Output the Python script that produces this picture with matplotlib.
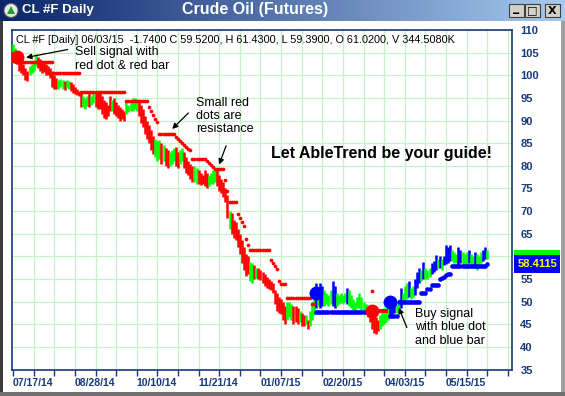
import numpy as np
import matplotlib.pyplot as plt
import matplotlib.transforms as mtransforms
from matplotlib.patches import Rectangle, Circle, Polygon

plt.rcParams['font.family'] = ['Liberation Sans', 'DejaVu Sans']

# ── colours ────────────────────────────────────────────────────────────────
_UP     = "#00FF00"
_DOWN   = "#FF0000"
_BUY    = "#0000FF"
_GRID   = "#C6F2C6"
_AXIS   = "#17387A"
_FRAME  = "#D4D0C8"

# ── daily bars (one entry per trading day) ──────────────────────────────────
bar_high = [
    107.0, 106.0, 105.0, 103.5, 103.0, 102.5, 101.5, 101.0, 102.0, 102.5,
    103.0, 104.7, 104.0, 103.5, 103.0, 103.2, 102.5, 102.0, 101.5, 101.0,
    100.0, 99.5, 99.0, 99.2, 99.0, 98.8, 99.0, 98.8, 98.5, 98.0,
    97.5, 97.0, 96.5, 96.6, 95.5, 95.0, 95.5, 96.0, 95.5, 96.0,
    96.5, 96.5, 96.0, 95.5, 94.5, 94.0, 93.5, 95.5, 94.5, 95.0,
    94.0, 93.5, 93.0, 92.5, 92.0, 94.0, 93.5, 94.5, 95.0, 95.0,
    94.8, 94.5, 93.5, 92.5, 91.0, 90.0, 89.0, 88.0, 86.5, 86.0,
    85.5, 85.8, 85.0, 84.5, 84.0, 83.5, 83.0, 83.5, 84.0, 84.2,
    83.0, 83.5, 84.0, 83.0, 82.0, 81.0, 80.5, 80.0, 80.0, 79.5,
    79.0, 78.5, 78.0, 79.0, 78.5, 78.0, 78.5, 79.0, 79.5, 79.0,
    78.0, 77.0, 76.5, 75.0, 73.5, 70.0, 69.5, 68.0, 67.5, 66.0,
    65.0, 63.5, 62.0, 60.5, 60.0, 58.8, 58.5, 58.0, 57.5, 57.5,
    57.0, 56.5, 56.0, 55.5, 55.0, 54.5, 54.0, 52.5, 51.8, 51.0,
    50.5, 50.0, 49.0, 50.0, 50.0, 49.5, 49.0, 49.0, 48.5, 48.0,
    47.5, 47.0, 47.0, 46.0, 48.0, 50.0, 51.8, 54.0, 53.0, 54.0,
    53.5, 52.5, 52.0, 51.5, 52.5, 54.5, 53.5, 52.0, 51.5, 51.8,
    51.5, 52.0, 53.0, 52.5, 51.5, 50.5, 50.0, 51.0, 52.0, 51.0,
    50.0, 49.5, 49.0, 48.5, 48.0, 47.0, 46.5, 46.0, 47.0, 48.0,
    48.5, 48.5, 49.0, 50.0, 49.5, 50.0, 49.5, 50.5, 53.0, 52.0,
    53.5, 54.0, 54.5, 53.0, 53.5, 55.0, 56.5, 57.5, 57.0, 58.8,
    57.5, 57.0, 57.5, 58.5, 59.0, 60.4, 59.5, 60.0, 59.5, 60.0,
    62.6, 62.0, 62.6, 61.5, 61.0, 60.5, 62.0, 61.5, 61.0, 60.5,
    61.0, 61.5, 60.5, 60.0, 61.0, 60.5, 60.0, 61.0, 61.5, 62.0,
    61.4,
]
bar_low = [
    104.5, 104.0, 102.5, 101.0, 100.5, 100.0, 99.0, 98.8, 100.0, 100.5,
    101.0, 102.0, 101.5, 101.0, 100.5, 100.8, 100.0, 100.0, 99.5, 97.4,
    97.0, 97.0, 97.0, 97.3, 97.0, 96.8, 97.2, 97.0, 96.5, 96.0,
    95.8, 95.6, 95.5, 93.0, 93.0, 92.5, 93.2, 93.0, 93.5, 93.8,
    93.0, 92.5, 92.5, 91.5, 90.5, 90.3, 91.0, 92.0, 92.0, 91.5,
    91.0, 90.5, 90.0, 90.3, 90.0, 91.5, 91.8, 92.0, 92.2, 92.5,
    92.0, 91.0, 89.5, 88.5, 87.0, 86.0, 85.0, 83.5, 82.5, 82.0,
    81.0, 81.5, 80.5, 81.0, 80.0, 79.5, 80.0, 80.5, 81.0, 80.0,
    79.5, 80.5, 81.0, 79.5, 78.5, 78.0, 77.0, 76.5, 76.5, 76.0,
    76.0, 75.8, 76.0, 75.5, 75.0, 75.5, 76.0, 76.0, 76.5, 75.5,
    74.5, 74.0, 73.0, 72.0, 68.5, 66.0, 65.0, 64.0, 63.5, 62.0,
    60.5, 58.5, 57.0, 55.6, 56.0, 54.5, 54.0, 55.0, 55.2, 55.0,
    54.8, 54.0, 53.5, 53.0, 52.7, 52.5, 52.0, 49.5, 48.0, 47.5,
    47.2, 46.0, 45.0, 46.0, 46.5, 46.0, 45.0, 45.5, 45.0, 45.5,
    44.5, 44.5, 45.0, 43.9, 44.5, 46.0, 47.0, 48.5, 49.0, 48.5,
    49.0, 49.0, 49.5, 49.0, 49.5, 49.0, 48.5, 49.0, 49.5, 49.8,
    49.5, 50.0, 49.5, 49.0, 48.5, 48.0, 48.0, 48.5, 48.5, 48.0,
    47.8, 47.5, 46.5, 45.5, 44.0, 43.0, 42.8, 43.5, 44.0, 44.5,
    45.0, 45.5, 46.0, 46.5, 47.0, 47.5, 47.5, 48.0, 48.5, 49.5,
    50.0, 50.5, 51.0, 50.5, 51.0, 51.5, 53.0, 54.0, 54.5, 55.0,
    55.0, 55.0, 55.5, 56.0, 56.5, 57.0, 57.5, 57.5, 57.0, 58.0,
    58.2, 58.5, 59.0, 59.0, 58.5, 58.5, 58.0, 58.5, 58.0, 57.5,
    58.0, 58.5, 58.0, 57.5, 58.0, 57.0, 58.0, 58.5, 59.0, 59.5,
    59.4,
]
# G = up trend, R = down trend, B = buy-trend bar
bar_trend = (
    "GGRRRRRRGG" "GGRRRRRRRR" "RRGGGRGGRR" "RRRRGGGRGG" "RRRRRRRRGR"
    "RRRRRGGGGG" "GRRRRRRRRG" "GGRGRRGGGR" "RGGRRRRRGG" "RRRRRGGGGR"
    "RRRRRGRRRR" "RRRRRGGRGR" "RRRRRRRRRR" "RRRGGGRRRG" "RRGRGGGBGB"
    "BGGGGBBGGG" "GGBGGGGGGG" "GGRRRRRRGG" "GGGBBBGGBG" "GGBGGBBBGB"
    "GGGBBBGBGB" "BBBGGGBBGG" "GBGGBGGGBB" "G"
)

# resistance stops (small red dots), one value per bar
red_stop = ([None] * 5 + [103.0] * 15 + [100.5] * 13 + [96.2] * 22
            + [94.3] * 11 + [93.0, 92.2, 91.3, 90.4, 89.6] + [87.0] * 8
            + [86.3, 85.9, 85.4, 85.0, 84.6, 84.2, 83.8, 83.4] + [81.5] * 7
            + [81.0, 80.6, 80.2, 79.8] + [79.4] * 5 + [76.9, 74.5]
            + [72.0] * 4 + [69.4, 68.4, 67.5, 66.6] + [63.9, 62.5]
            + [61.5] * 10 + [59.3, 58.6, 57.8, 57.1] + [54.5] + [53.8] * 3
            + [50.9] * 12 + [49.4] * 2 + [None] * 27 + [52.3] + [None] * 56)

# support stops (blue dots), one value per bar
blue_stop = ([None] * 147 + [47.6] * 25 + [None] * 11 + [46.8] * 4
             + [49.9] * 11 + [51.8] * 3 + [52.7] * 2 + [53.6] * 4
             + [55.0, 55.2, 55.5, 55.8, 56.0, 56.2] + [57.8] * 17 + [58.4])

# sell bar after the second sell signal
sell_bar_start = [174]
sell_bar_end = [182]
sell_bar_level = [47.9]

# big signal dots
sell_idx = [2, 174]
sell_val = [104.0, 47.9]
buy_idx = [147, 183]
buy_val = [51.8, 50.0]

date_labels = ["07/17/14", "08/28/14", "10/10/14", "11/21/14",
               "01/07/15", "02/20/15", "04/03/15", "05/15/15"]
last_price = 58.4115
header = ("CL #F [Daily] 06/03/15  -1.7400 C 59.5200, H 61.4300, "
          "L 59.3900, O 61.0200, V 344.5080K")

# ── figure & window chrome ─────────────────────────────────────────────────
W, H = 565, 396
fig = plt.figure(figsize=(W / 100, H / 100), dpi=100, facecolor="white")

chrome = fig.add_axes([0, 0, 1, 1], zorder=0)
chrome.set_xlim(0, W)
chrome.set_ylim(H, 0)
chrome.axis("off")

grad = np.linspace(0, 1, 256).reshape(1, -1)
c0 = np.array([10, 36, 106]) / 255
c1 = np.array([166, 202, 240]) / 255
rgb = c0[None, None, :] * (1 - grad[..., None]) + c1[None, None, :] * grad[..., None]
chrome.imshow(rgb, extent=[0, W, 21, 0], aspect="auto", zorder=1)

chrome.add_patch(Circle((11, 10.5), 7, facecolor="#E8E8E8", edgecolor="#606060", lw=0.8, zorder=2))
chrome.add_patch(Polygon([[7, 14], [15, 14], [11, 6]], closed=True, facecolor="#1FA01F", zorder=3))
chrome.text(22, 10.5, "CL #F Daily", color="white", fontsize=9.5, fontweight="bold",
            va="center", ha="left", zorder=3)
chrome.text(255, 9.5, "Crude Oil (Futures)", color="white", fontsize=11.5, fontweight="bold",
            va="center", ha="center", zorder=3)

for x0, glyph in [(509, "_"), (525, "□"), (545, "X")]:
    chrome.add_patch(Rectangle((x0, 3.5), 15, 13, facecolor=_FRAME, edgecolor="#404040", lw=0.8, zorder=2))
    chrome.text(x0 + 7.5, 10.5 if glyph != "_" else 8, glyph, fontsize=8 if glyph != "_" else 9,
                fontweight="bold", color="black", ha="center", va="center", zorder=3,
                family=["DejaVu Sans"])

# outer window border
chrome.add_patch(Rectangle((0, 21), 3, H - 21, facecolor="#3C3C3C", edgecolor="none", zorder=2))
chrome.add_patch(Rectangle((W - 4, 21), 4, H - 21, facecolor="#A0A0A0", edgecolor="none", zorder=2))
chrome.add_patch(Rectangle((0, H - 4), W, 4, facecolor="#707070", edgecolor="none", zorder=2))

# ── main price panel ───────────────────────────────────────────────────────
ax = fig.add_axes([12 / W, 1 - 369.5 / H, 500 / W, 339.5 / H], zorder=1)
ax.set_facecolor("white")

n = len(bar_high)
idx = np.arange(n)
hi = np.array(bar_high)
lo = np.array(bar_low)
col_map = {"G": _UP, "R": _DOWN, "B": _BUY}
cols = [col_map[c] for c in bar_trend]

ax.vlines(idx, lo, hi, colors=cols, linewidth=1.8, zorder=3)

red = np.array([np.nan if v is None else v for v in red_stop], dtype=float)
blue = np.array([np.nan if v is None else v for v in blue_stop], dtype=float)
ax.scatter(idx, red, s=7, color=_DOWN, linewidths=0, zorder=4)
ax.scatter(idx, blue, s=11, color=_BUY, linewidths=0, zorder=4)
ax.hlines(sell_bar_level, sell_bar_start, sell_bar_end, colors=_DOWN, linewidth=2.8, zorder=4)

ax.plot(sell_idx, sell_val, "o", ms=10, color=_DOWN, mec="none", zorder=5)
ax.plot(buy_idx, buy_val, "o", ms=10, color=_BUY, mec="none", zorder=5)

ax.set_xlim(-0.5, 242)
ax.set_ylim(35, 110)

# grid
for y in range(35, 111, 5):
    ax.axhline(y, color=_GRID, lw=0.9, zorder=1)
for x in range(10, 241, 10):
    ax.axvline(x, color=_GRID, lw=0.9, zorder=1)

# axes styling
for s in ax.spines.values():
    s.set_color(_AXIS)
    s.set_linewidth(1.2)

ax.yaxis.tick_right()
yvals = list(range(35, 111, 5))
ax.set_yticks(yvals)
# the 60 label sits under the last-price box
ax.set_yticklabels(["" if v == 60 else str(v) for v in yvals])
ax.tick_params(axis="y", length=0, pad=6, labelsize=8, labelcolor=_AXIS)
for t in ax.get_yticklabels():
    t.set_fontweight("bold")

ax.set_xticks(range(0, 211, 30))
ax.set_xticklabels(date_labels)
ax.set_xticks(range(0, 241, 10), minor=True)
ax.tick_params(axis="x", which="both", length=4, width=1, color=_AXIS,
               direction="out", pad=2, labelsize=7.5, labelcolor=_AXIS)
for t in ax.get_xticklabels():
    t.set_fontweight("bold")
    t.set_horizontalalignment("left")

# last price box on the right scale
trans = mtransforms.blended_transform_factory(ax.transAxes, ax.transData)
ax.add_patch(Rectangle((1.004, 60.3), 0.092, 1.1, transform=trans, facecolor=_UP,
                       edgecolor="none", clip_on=False, zorder=6))
ax.add_patch(Rectangle((1.004, 56.3), 0.092, 4.0, transform=trans, facecolor=_BUY,
                       edgecolor="none", clip_on=False, zorder=6))
ax.text(1.05, 58.3, f"{last_price:.4f}", transform=trans, color="#FFFF00", fontsize=8,
        fontweight="bold", ha="center", va="center", zorder=7)

# annotations
ax.text(0.008, 0.9705, header, transform=ax.transAxes, fontsize=7.8, color="black",
        ha="left", va="center", zorder=6)

arrow = dict(arrowstyle="-|>", color="black", lw=0.9, mutation_scale=8)
ax.annotate("", xy=(5, 103.8), xytext=(27.8, 105.8), arrowprops=arrow, zorder=6)
ax.text(30.2, 106.4, "Sell signal with\nred dot & red bar", fontsize=9, ha="left",
        va="top", linespacing=1.15, zorder=6)

ax.annotate("", xy=(76.2, 87.7), xytext=(86.0, 92.1), arrowprops=arrow, zorder=6)
ax.annotate("", xy=(99.5, 79.7), xytext=(103.8, 85.0), arrowprops=arrow, zorder=6)
ax.text(88.9, 95.3, "Small red\ndots are\nresistance", fontsize=9, ha="left",
        va="top", linespacing=1.15, zorder=6)

ax.text(178.5, 82.8, "Let AbleTrend be your guide!", fontsize=11.5, fontweight="bold",
        ha="center", va="center", zorder=6)

ax.annotate("", xy=(186.6, 49.2), xytext=(191.5, 43.7), arrowprops=arrow, zorder=6)
ax.text(195, 48.6, "Buy signal\nwith blue dot\nand blue bar", fontsize=9, ha="left",
        va="top", linespacing=1.15, zorder=6)

fig.savefig("out.png", dpi=100, facecolor="white")
